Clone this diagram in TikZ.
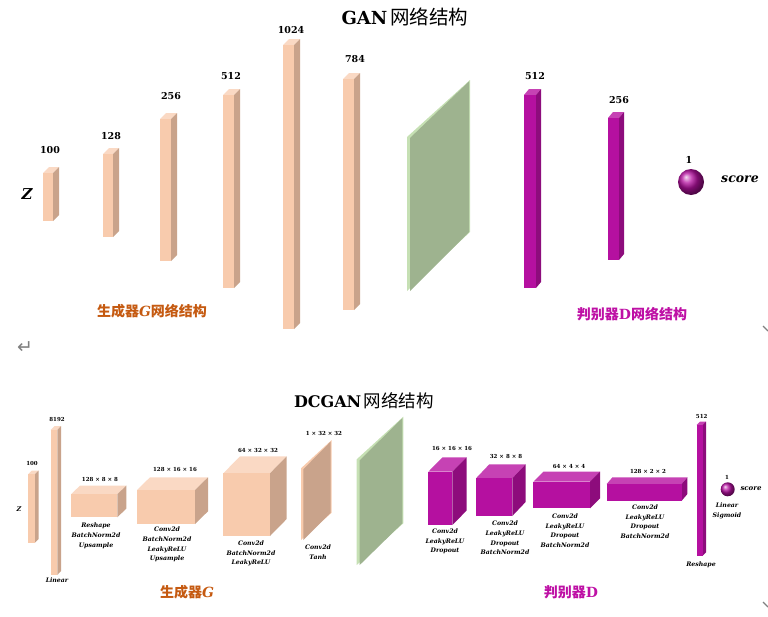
\documentclass[tikz,border=0pt]{standalone}
\usepackage{fontspec}
\setmainfont{DejaVu Serif}
\newfontfamily\cjk{Noto Sans CJK SC}
\newfontfamily\symfont{DejaVu Sans}
\definecolor{peachfront}{RGB}{248,203,173}
\definecolor{peachtop}{RGB}{250,217,196}
\definecolor{peachside}{RGB}{201,163,139}
\definecolor{purpfront}{RGB}{181,16,160}
\definecolor{purptop}{RGB}{198,66,180}
\definecolor{purpside}{RGB}{141,12,124}
\definecolor{greenface}{RGB}{158,179,143}
\definecolor{greenedge}{RGB}{198,224,180}
\definecolor{genorange}{RGB}{197,90,17}
\definecolor{dispurple}{RGB}{190,16,165}

% box with front face (#1,#2)-(#3,#4), depth (#5,#6), palette #7
\newcommand{\cuboid}[7]{%
  \fill[#7top] (#1,#2) -- ++(#5,-#6) -- (#3+#5,#2-#6) -- (#3,#2) -- cycle;
  \fill[#7side] (#3,#2) -- ++(#5,-#6) -- (#3+#5,#4-#6) -- (#3,#4) -- cycle;
  \fill[#7front] (#1,#2) rectangle (#3,#4);
}
% slab: thin edge at x=#1..#2, face to x=#3, left top/bottom #4/#5, right top/bottom #6/#7
\newcommand{\slab}[9]{%
  \fill[#8] (#1,#4) -- (#3,#6) -- (#3,#7) -- (#1,#5) -- cycle;
  \fill[#9] (#2,#4+1) -- (#3-1,#6+1.5) -- (#3-1,#7) -- (#2,#5) -- cycle;
}

\begin{document}
\begin{tikzpicture}[x=1pt,y=-1pt,
  numlabel/.style={font=\bfseries\fontsize{9.5}{9.5}\selectfont},
  dimlabel/.style={font=\bfseries\fontsize{5.5}{6}\selectfont},
  oplabel/.style={font=\bfseries\itshape\fontsize{6.2}{9.6}\selectfont, align=center, anchor=north, inner sep=0pt},
  partlabel/.style={font=\cjk\bfseries\fontsize{14}{14}\selectfont}]
\useasboundingbox (0,0) rectangle (768,616);

% ---------------- GAN ----------------
\node[font=\bfseries\fontsize{18}{18}\selectfont] (gantitle) at (405,17) {GAN\,{\cjk\mdseries\fontsize{19.5}{19.5}\selectfont 网络结构}};

% generator bars
\cuboid{43}{173}{53}{221}{6}{6}{peach}
\cuboid{103}{154}{113}{237}{6}{6}{peach}
\cuboid{160}{119}{171}{261}{6}{6}{peach}
\cuboid{223}{95}{234}{288}{6}{6}{peach}
\cuboid{283}{45}{294}{329}{6}{6}{peach}
\cuboid{343}{79}{354}{310}{6}{6}{peach}
\node[numlabel] (g100) at (50,150) {100};
\node[numlabel] (g128) at (111,136) {128};
\node[numlabel] (g256) at (171,96) {256};
\node[numlabel] (g512) at (231,76) {512};
\node[numlabel] (g1024) at (291,30) {1024};
\node[numlabel] (g784) at (355,59) {784};
\node[font=\bfseries\itshape\fontsize{15}{15}\selectfont] (zin) at (27,194) {Z};

% image
\slab{407}{410}{470}{137}{291}{80}{232}{greenedge}{greenface}

% discriminator bars
\cuboid{524}{95}{536}{288}{5}{6}{purp}
\cuboid{608}{118}{619}{260}{5}{6}{purp}
\node[numlabel] (d512) at (535,76) {512};
\node[numlabel] (d256) at (619,100) {256};
\shade[ball color=purpfront] (691,182) circle (13);
\node[numlabel] (d1) at (689,160) {1};
\node[font=\bfseries\itshape\fontsize{12.5}{12.5}\selectfont] (dscore) at (740,179) {score};

\node[partlabel, text=genorange] (gpart) at (152,311) {生成器{\rmfamily\bfseries\itshape G}网络结构};
\node[partlabel, text=dispurple] (dpart) at (632,314) {判别器{\rmfamily\bfseries D}网络结构};
\node[font=\symfont\fontsize{19}{19}\selectfont, text=gray] (retmark) at (25,348) {↵};
\draw[gray, line width=1.2pt] (763,326) -- (768,331);

% ---------------- DCGAN ----------------
\node[font=\bfseries\fontsize{16}{16}\selectfont] (dctitle) at (364,401) {DCGAN\,{\cjk\mdseries\fontsize{17.5}{17.5}\selectfont 网络结构}};

% generator
\node[font=\bfseries\itshape\fontsize{6.5}{6.5}\selectfont] (zin2) at (19,509) {Z};
\cuboid{28.3}{474}{35}{542.7}{3.5}{3.5}{peach}
\node[dimlabel] (b100) at (32,463) {100};
\cuboid{50.7}{430}{57.3}{575}{3.8}{4}{peach}
\node[dimlabel] (b8192) at (57,419) {8192};
\node[oplabel] (oplin) at (57,578) {Linear};

\cuboid{71}{494.3}{117.3}{517.3}{9}{8.7}{peach}
\node[dimlabel] (b128a) at (100,479) {128 × 8 × 8};
\node[oplabel] (opres) at (96,523) {Reshape\\BatchNorm2d\\Upsample};

\cuboid{137}{490}{195}{524}{13}{12.7}{peach}
\node[dimlabel] (b128b) at (175,469) {128 × 16 × 16};
\node[oplabel] (opconva) at (167,527) {Conv2d\\BatchNorm2d\\LeakyReLU\\Upsample};

\cuboid{223.3}{473.3}{270}{536}{16.7}{17}{peach}
\node[dimlabel] (b64) at (258,450) {64 × 32 × 32};
\node[oplabel] (opconvb) at (251,540.5) {Conv2d\\BatchNorm2d\\LeakyReLU};

\slab{301}{303.3}{331.7}{468.3}{540}{440}{512.7}{peachfront}{peachside}
\node[dimlabel] (b1) at (324,433.3) {1 × 32 × 32};
\node[oplabel] (optanh) at (318,545) {Conv2d\\Tanh};

% image
\slab{356.7}{359.7}{403.3}{459.3}{565}{416.7}{523.3}{greenedge}{greenface}

% discriminator
\cuboid{428.3}{471.7}{452.3}{525}{14.3}{14.4}{purp}
\node[dimlabel] (c16) at (452,448.3) {16 × 16 × 16};
\node[oplabel] (opd1) at (445,528.5) {Conv2d\\LeakyReLU\\Dropout};

\cuboid{476}{478.3}{512.3}{516}{13.3}{14}{purp}
\node[dimlabel] (c32) at (506,456.7) {32 × 8 × 8};
\node[oplabel] (opd2) at (505,521) {Conv2d\\LeakyReLU\\Dropout\\BatchNorm2d};

\cuboid{533.3}{481.7}{590}{508.3}{10}{10}{purp}
\node[dimlabel] (c64) at (569,466) {64 × 4 × 4};
\node[oplabel] (opd3) at (565,513.5) {Conv2d\\LeakyReLU\\Dropout\\BatchNorm2d};

\cuboid{606.7}{484}{681.7}{500.7}{5.7}{6.7}{purp}
\node[dimlabel] (c128) at (648,471.7) {128 × 2 × 2};
\node[oplabel] (opd4) at (645,504.5) {Conv2d\\LeakyReLU\\Dropout\\BatchNorm2d};

\cuboid{696.7}{425}{702.7}{555.7}{3.3}{3.3}{purp}
\node[dimlabel] (c512) at (701.7,416) {512};
\node[oplabel] (opresh) at (701,561.5) {Reshape};

\shade[ball color=purpfront] (727.7,489.3) circle (7);
\node[dimlabel] (c1) at (727,477.3) {1};
\node[font=\bfseries\itshape\fontsize{7}{7}\selectfont] (cscore) at (751,489) {score};
\node[oplabel] (opsig) at (727,503) {Linear\\Sigmoid};

\node[partlabel, text=genorange] (gpart2) at (187,592) {生成器{\rmfamily\bfseries\itshape G}};
\node[partlabel, text=dispurple] (dpart2) at (571,592) {判别器{\rmfamily\bfseries D}};
\draw[gray, line width=1.2pt] (763,602) -- (768,607);

\end{tikzpicture}
\end{document}
